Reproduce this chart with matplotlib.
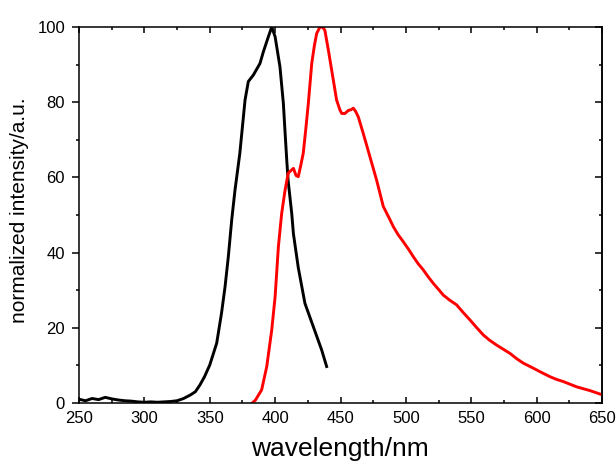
import matplotlib
matplotlib.use("Agg")
import matplotlib.pyplot as plt
from matplotlib.ticker import MultipleLocator

plt.rcParams['font.family'] = ['Liberation Sans', 'DejaVu Sans']

# excitation spectrum (black)
exc_wl = [250, 255, 260, 265, 270, 275, 280, 285, 290, 295, 300, 305, 310, 315,
          320, 325, 330, 335, 339, 342.5, 346, 350, 355.3, 359, 361.7, 364.2,
          366.8, 369.3, 373, 377, 379.5, 383.3, 388.4, 391, 394.8, 397.4, 400,
          403.7, 406.3, 407.6, 409, 410, 412.7, 414, 417.7, 422.8, 429.2,
          435.6, 439.4]
exc_int = [1.0, 0.6, 1.2, 0.9, 1.5, 1.1, 0.8, 0.6, 0.5, 0.3, 0.2, 0.3, 0.2, 0.3,
           0.4, 0.6, 1.2, 2.1, 3.0, 4.8, 7.0, 10.1, 15.9, 23.9, 30.9, 38.9,
           48.7, 56.6, 66.4, 80.6, 85.5, 87.2, 90.3, 93.4, 97.4, 100.0, 97.4,
           89.4, 79.7, 72.0, 64.0, 59.0, 50.4, 45.0, 36.0, 26.5, 20.3,
           14.1, 9.7]

# emission spectrum (red)
em_wl = [382.5, 385, 389.7, 393.6, 397.4, 400, 402.5, 405, 407.6, 410, 412, 414,
         416, 417.7, 419.5, 421.5, 423.5, 425.4, 428, 430, 431.8, 434.3, 436,
         438, 440.7, 444.5, 447, 449.6, 451, 453.4, 456, 458, 459.8, 461.5,
         463.6, 467.4, 472.5, 477.6, 482.7, 487.9, 490.4, 494, 498, 502, 505.7,
         509.5, 513.3, 517, 521, 525, 528.6, 533.7, 538.8, 544, 549, 554, 559.2,
         564, 569.4, 574.5, 579.6, 584.7, 589.8, 595, 600, 605, 610.2, 615,
         620.4, 625.5, 630.6, 635.7, 640.8, 645, 650]
em_int = [0.0, 0.8, 3.5, 9.7, 19.4, 28.3, 41.6, 50.4, 56.6, 61.1, 61.8, 62.4,
          60.5, 60.2, 63.0, 66.4, 73.0, 79.7, 90.3, 95.0, 98.3, 100.0, 100.0,
          99.2, 93.9, 85.9, 80.6, 77.9, 77.0, 77.0, 77.8, 78.0, 78.4, 77.6,
          76.1, 71.7, 65.5, 59.3, 52.3, 48.7, 46.9, 44.8, 42.9, 40.9, 38.9,
          37.0, 35.4, 33.6, 31.8, 30.2, 28.7, 27.3, 26.1, 24.0, 22.1, 20.1, 18.1,
          16.7, 15.4, 14.3, 13.2, 11.8, 10.6, 9.7, 8.8, 7.9, 7.0, 6.3,
          5.7, 5.0, 4.3, 3.8, 3.3, 2.8, 2.2]

fig = plt.figure(figsize=(6.16, 4.65), dpi=100)
ax = fig.add_axes([79 / 616, 62 / 465, 523 / 616, 376 / 465])

ax.plot(exc_wl, exc_int, color='black', lw=2.1)
ax.plot(em_wl, em_int, color='#ff0000', lw=2.1)

ax.set_xlim(250, 650)
ax.set_ylim(0, 100)
ax.xaxis.set_major_locator(MultipleLocator(50))
ax.xaxis.set_minor_locator(MultipleLocator(25))
ax.yaxis.set_major_locator(MultipleLocator(20))
ax.yaxis.set_minor_locator(MultipleLocator(10))

for s in ax.spines.values():
    s.set_linewidth(1.1)

ax.tick_params(axis='x', which='both', direction='in', top=True, bottom=True,
               width=1.1, labelsize=12, pad=6)
ax.tick_params(axis='x', which='major', length=4.5)
ax.tick_params(axis='x', which='minor', length=2.5)
ax.tick_params(axis='y', which='both', direction='out', left=True, right=False,
               width=1.1, labelsize=12, pad=5)
ax.tick_params(axis='y', which='major', length=5)
ax.tick_params(axis='y', which='minor', length=2.5)

# right side ticks point inward
ax_r = ax.secondary_yaxis('right')
ax_r.yaxis.set_major_locator(MultipleLocator(20))
ax_r.yaxis.set_minor_locator(MultipleLocator(10))
ax_r.spines['right'].set_linewidth(1.1)
ax_r.tick_params(which='both', direction='in', width=1.1, labelright=False)
ax_r.tick_params(which='major', length=5)
ax_r.tick_params(which='minor', length=2.5)

fig.text(20 / 616, 1 - 210 / 465, "normalized intensity/a.u.", rotation=90,
         ha='center', va='center', fontsize=15)
fig.text(340 / 616, 1 - 449 / 465, "wavelength/nm", ha='center', va='center',
         fontsize=19)

plt.savefig("out.png", dpi=100)
plt.close()
